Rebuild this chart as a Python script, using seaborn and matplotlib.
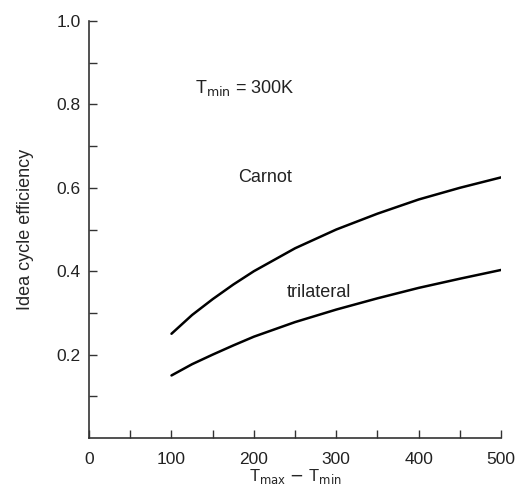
import numpy as np
import pandas as pd
import matplotlib.pyplot as plt
import seaborn as sns
from matplotlib.ticker import MultipleLocator, FixedLocator

# values
dT = [100, 125, 150, 175, 200, 250, 300, 350, 400, 450, 500]
carnot = [0.25, 0.295, 0.333, 0.368, 0.40, 0.455, 0.50, 0.538, 0.572, 0.60, 0.625]
trilateral = [0.15, 0.177, 0.20, 0.222, 0.243, 0.278, 0.308, 0.335, 0.36, 0.382, 0.403]

df = pd.DataFrame({"dT": dT + dT,
                   "eff": carnot + trilateral,
                   "cycle": ["Carnot"] * len(dT) + ["trilateral"] * len(dT)})

sns.set_style("ticks")
plt.rcParams["font.family"] = ["Liberation Sans", "DejaVu Sans"]
plt.rcParams["text.color"] = "#222222"

fig = plt.figure(figsize=(5.15, 5.0), dpi=100)
ax = fig.add_axes([0.173, 0.124, 0.8, 0.834])

sns.lineplot(data=df, x="dT", y="eff", units="cycle", estimator=None,
             color="black", lw=1.8, ax=ax, legend=False)

ax.set_xlim(0, 500)
ax.set_ylim(0, 1.0)
ax.xaxis.set_major_locator(MultipleLocator(100))
ax.xaxis.set_minor_locator(MultipleLocator(50))
ax.yaxis.set_major_locator(FixedLocator([0.2, 0.4, 0.6, 0.8, 1.0]))
ax.yaxis.set_minor_locator(FixedLocator([0.1, 0.3, 0.5, 0.7, 0.9]))
ax.set_yticklabels(["0.2", "0.4", "0.6", "0.8", "1.0"])
ax.tick_params(which="both", direction="in", length=6, width=1.0,
               colors="#333333", labelsize=12.5, labelcolor="#222222")
ax.tick_params(axis="x", pad=10)
ax.tick_params(axis="y", pad=6)

sns.despine(ax=ax)
for s in ["left", "bottom"]:
    ax.spines[s].set_linewidth(1.2)
    ax.spines[s].set_color("#333333")

ax.set_xlabel(r"T$_{\mathrm{max}}$ $-$ T$_{\mathrm{min}}$", fontsize=12, labelpad=0)
ax.set_ylabel("Idea cycle efficiency", fontsize=13, labelpad=16)

ax.text(213, 0.625, "Carnot", fontsize=13, ha="center", va="center")
ax.text(279, 0.35, "trilateral", fontsize=13, ha="center", va="center")
ax.text(128, 0.84, r"T$_{\mathrm{min}}$ = 300K", fontsize=13, ha="left", va="center")

fig.savefig("out.png", dpi=100)
